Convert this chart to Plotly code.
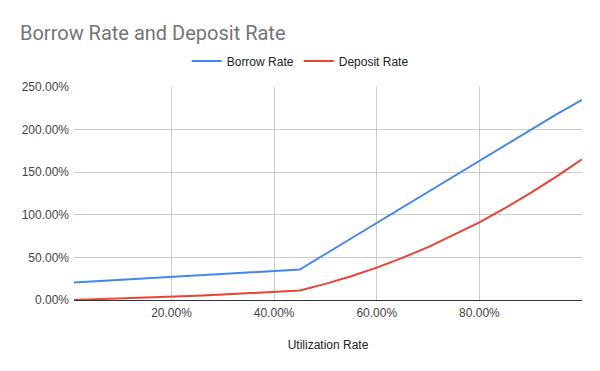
import plotly.graph_objects as go

utilization = [0.01, 0.05, 0.10, 0.15, 0.20, 0.25, 0.30, 0.35, 0.40, 0.45, 0.50, 0.55, 0.60,
               0.65, 0.70, 0.75, 0.80, 0.85, 0.90, 0.95, 1.00]
borrow_rate = [0.204, 0.218, 0.235, 0.253, 0.270, 0.288, 0.305, 0.323, 0.340, 0.358, 0.540,
               0.722, 0.906, 1.086, 1.268, 1.450, 1.634, 1.814, 1.996, 2.178, 2.350]
deposit_rate = [0.001, 0.008, 0.016, 0.027, 0.038, 0.050, 0.064, 0.079, 0.095, 0.112, 0.189,
                0.278, 0.380, 0.494, 0.621, 0.761, 0.910, 1.079, 1.257, 1.448, 1.650]
x_ticks = [0.2, 0.4, 0.6, 0.8, 1.0]
x_tick_text = ["20.00%", "40.00%", "60.00%", "80.00%", ""]
y_ticks = [0, 0.5, 1.0, 1.5, 2.0, 2.5]

fig = go.Figure()
fig.add_trace(go.Scatter(x=utilization, y=borrow_rate, mode="lines", name="Borrow Rate",
                         line=dict(color="#4285F4", width=2)))
fig.add_trace(go.Scatter(x=utilization, y=deposit_rate, mode="lines", name="Deposit Rate",
                         line=dict(color="#EA4335", width=2)))

fig.update_layout(
    width=600, height=371,
    paper_bgcolor="white", plot_bgcolor="white",
    margin=dict(l=66, r=26, t=79, b=79, autoexpand=False),
    font=dict(family="Liberation Sans, Arial, sans-serif", size=12, color="#222222"),
    title=dict(text="Borrow Rate and Deposit Rate", x=0.02, xanchor="left",
               y=0.933, yanchor="middle",
               font=dict(family="Roboto, Liberation Sans, Arial, sans-serif", size=20, color="#757575")),
    legend=dict(orientation="h", xref="container", yref="container",
                x=0.487, xanchor="center", y=0.857, yanchor="middle",
                font=dict(size=12, color="#222222"), itemwidth=30),
    showlegend=True,
)
fig.update_xaxes(range=[0.01, 1.0], tickvals=x_ticks, ticktext=x_tick_text,
                 showgrid=True, gridcolor="#cccccc", gridwidth=1,
                 showline=True, linecolor="#333333", linewidth=1,
                 zeroline=False, ticks="", ticklabelstandoff=2,
                 title=dict(text="Utilization Rate", font=dict(size=12, color="#222222"), standoff=21),
                 tickfont=dict(size=12, color="#444444"))
fig.update_yaxes(range=[0, 2.5], tickvals=y_ticks, tickformat=".2%",
                 showgrid=True, gridcolor="#cccccc", gridwidth=1,
                 zeroline=False, showline=False, ticks="", ticklabelstandoff=4,
                 tickfont=dict(size=12, color="#444444"))

fig.write_html("out.html")
